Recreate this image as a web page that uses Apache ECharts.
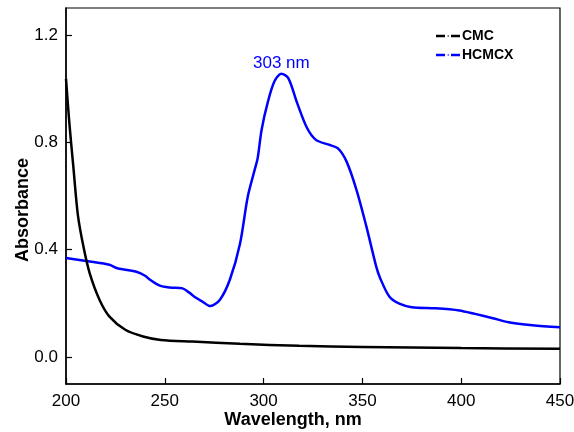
<!DOCTYPE html>
<html>
<head>
<meta charset="utf-8">
<script src="https://cdn.jsdelivr.net/npm/echarts@6/dist/echarts.min.js"></script>
<style>html,body{margin:0;padding:0;background:#fff}#c{width:574px;height:432px}</style>
</head>
<body>
<div id="c"></div>
<script>
// Data
const cmcWavelength = [200, 201.7, 203.7, 206, 209, 212, 217, 222, 230, 239, 248, 264, 288, 318, 350, 400, 450];
const cmcAbsorbance = [1.036, 0.871, 0.71, 0.53, 0.405, 0.312, 0.213, 0.151, 0.102, 0.077, 0.064, 0.058, 0.05, 0.042, 0.038, 0.034, 0.031];

const hcmcxWavelength = [200, 212, 222, 226, 236, 240, 242.5, 247.5, 252.5, 259, 262, 266, 269, 273, 278, 283, 288, 292, 295.5, 297, 299, 302, 305.5, 309, 312.5, 317, 322, 326.5, 333, 337.5, 342, 347, 352, 357, 359, 363.6, 368.7, 375, 387, 399, 407, 416, 424, 436, 450];
const hcmcxAbsorbance = [0.369, 0.356, 0.344, 0.331, 0.317, 0.303, 0.288, 0.266, 0.259, 0.256, 0.242, 0.22, 0.207, 0.19, 0.215, 0.29, 0.42, 0.598, 0.698, 0.741, 0.847, 0.946, 1.027, 1.055, 1.039, 0.946, 0.853, 0.809, 0.791, 0.778, 0.728, 0.623, 0.487, 0.337, 0.294, 0.226, 0.199, 0.186, 0.182, 0.174, 0.161, 0.145, 0.13, 0.119, 0.111];

const yTickValues = [0.0, 0.4, 0.8, 1.2];
const xTickLabels = [200, 250, 300, 350, 400, 450];
const peakLabel = { text: '303 nm', wavelength: 309, absorbance: 1.055 };

const seriesNames = ['CMC', 'HCMCX'];

const pair = (xs, ys) => xs.map((x, i) => [x, ys[i]]);
const legendIcon = 'path://M0,4h9v2.4h-9z M11.5,4.6h1.6v1.2h-1.6z M15,4h9v2.4h-9z';

const chart = echarts.init(document.getElementById('c'), null, { renderer: 'canvas' });
chart.setOption({
  animation: false,
  backgroundColor: '#fff',
  textStyle: { fontFamily: 'Liberation Sans, Arial, sans-serif' },
  grid: { left: 66, right: 14, top: 8, bottom: 48, containLabel: false, outerBoundsMode: 'none',
          show: true, borderColor: '#000', borderWidth: 1.2 },
  legend: {
    orient: 'vertical', left: 431, top: 24, itemGap: 5,
    itemWidth: 24, itemHeight: 10, icon: legendIcon,
    textStyle: { fontSize: 14, fontWeight: 'bold', color: '#000', padding: [0, 0, 0, -3] },
    data: seriesNames
  },
  xAxis: {
    type: 'value', min: 200, max: 450, interval: 50,
    name: 'Wavelength, nm', nameLocation: 'middle', nameGap: 27, nameMoveOverlap: false,
    nameTextStyle: { fontSize: 18, fontWeight: 'bold', color: '#000', padding: [0, 40, 0, 0] },
    axisLine: { show: true, onZero: false, lineStyle: { color: '#000', width: 1.5 } },
    axisTick: { show: true, inside: true, length: 6, lineStyle: { color: '#000', width: 1.2 }, customValues: xTickLabels },
    axisLabel: { fontSize: 17, color: '#000', margin: 9, customValues: xTickLabels },
    splitLine: { show: false }
  },
  yAxis: {
    type: 'value', min: -0.1, max: 1.3,
    name: 'Absorbance', nameLocation: 'middle', nameGap: 34, nameMoveOverlap: false,
    nameTextStyle: { fontSize: 18, fontWeight: 'bold', color: '#000', padding: [0, 28, 0, 0] },
    axisLine: { show: true, onZero: false, lineStyle: { color: '#000', width: 1.5 } },
    axisTick: { show: true, inside: true, length: 6, lineStyle: { color: '#000', width: 1.2 }, customValues: yTickValues },
    axisLabel: { fontSize: 17, color: '#000', margin: 8, customValues: yTickValues, formatter: v => v.toFixed(1) },
    splitLine: { show: false }
  },
  series: [
    {
      name: seriesNames[0], type: 'line', smooth: 0.3, showSymbol: false, symbol: 'none',
      color: '#000', lineStyle: { color: '#000', width: 2.5 },
      data: pair(cmcWavelength, cmcAbsorbance), z: 3
    },
    {
      name: seriesNames[1], type: 'line', smooth: 0.3, showSymbol: false, symbol: 'none',
      color: '#0000ff', lineStyle: { color: '#0000ff', width: 2.5 },
      data: pair(hcmcxWavelength, hcmcxAbsorbance), z: 2,
      markPoint: {
        symbol: 'circle', symbolSize: 0, silent: true,
        label: { show: true, position: 'top', distance: 2, color: '#0000ff', fontSize: 17, formatter: peakLabel.text },
        data: [{ coord: [peakLabel.wavelength, peakLabel.absorbance], value: peakLabel.text }]
      }
    }
  ]
});
</script>
</body>
</html>
